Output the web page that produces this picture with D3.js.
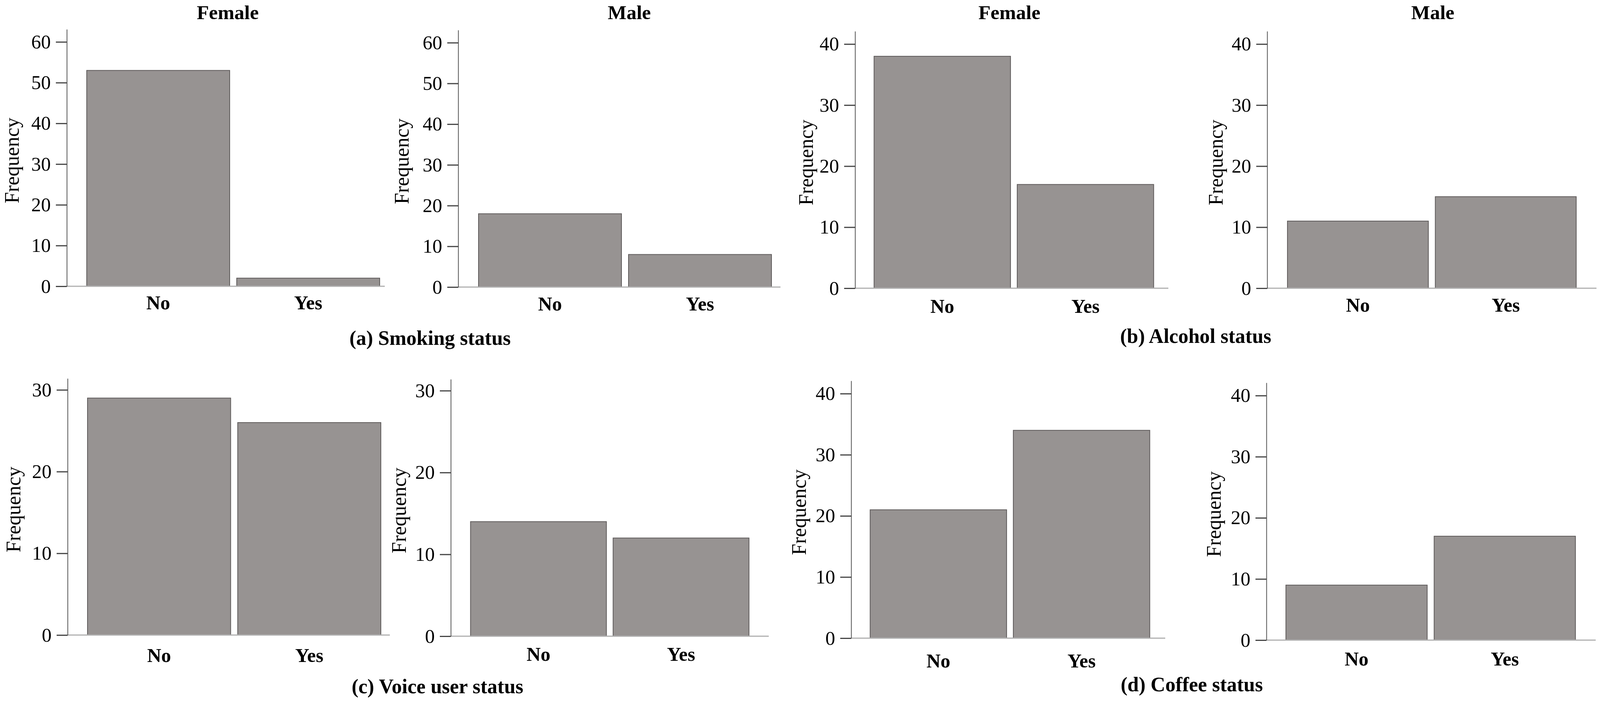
<!DOCTYPE html>
<html>
<head>
<meta charset="utf-8">
<script src="https://cdn.jsdelivr.net/npm/d3@7"></script>
<style>
  body { margin: 0; background: #fff; }
  svg text { font-family: "Liberation Serif", "DejaVu Serif", "Times New Roman", serif; fill: #000; }
</style>
</head>
<body>
<div id="chart"></div>
<script>
var categories = ["No", "Yes"];
var sexes = ["Female", "Male"];
var captions = ["(a) Smoking status", "(b) Alcohol status", "(c) Voice user status", "(d) Coffee status"];

var smokingFemale = [53, 2];
var smokingMale = [18, 8];
var alcoholFemale = [38, 17];
var alcoholMale = [11, 15];
var voiceFemale = [29, 26];
var voiceMale = [14, 12];
var coffeeFemale = [21, 34];
var coffeeMale = [9, 17];

var smokingTicks = [0, 10, 20, 30, 40, 50, 60];
var alcoholTicks = [0, 10, 20, 30, 40];
var voiceTicks = [0, 10, 20, 30];
var coffeeTicks = [0, 10, 20, 30, 40];

var W = 4113, H = 1800;
var serif = "'Liberation Serif', 'DejaVu Serif', serif";
var svg = d3.select("#chart").append("svg")
    .attr("width", W).attr("height", H);

// one entry per small chart: where it sits on the page
var panels = [
  {values: smokingFemale, ticks: smokingTicks, yMax: 63.1, axisX: 171, barL: 213, barR: 981, lineEnd: 985, top: 75, base: 733, labelDy: 59, title: 0, fx: 48},
  {values: smokingMale, ticks: smokingTicks, yMax: 63.1, axisX: 1173, barL: 1216, barR: 1984, lineEnd: 1998, top: 77, base: 735, labelDy: 60, title: 1, fx: 1046},
  {values: alcoholFemale, ticks: alcoholTicks, yMax: 42.1, axisX: 2189, barL: 2229, barR: 2962, lineEnd: 2991, top: 80, base: 738, labelDy: 63, title: 0, fx: 2081},
  {values: alcoholMale, ticks: alcoholTicks, yMax: 42.1, axisX: 3244, barL: 3287, barR: 4044, lineEnd: 4087, top: 80, base: 738, labelDy: 60, title: 1, fx: 3130},
  {values: voiceFemale, ticks: voiceTicks, yMax: 31.4, axisX: 173, barL: 215, barR: 984, lineEnd: 998, top: 969, base: 1626, labelDy: 69, title: -1, fx: 52},
  {values: voiceMale, ticks: voiceTicks, yMax: 31.4, axisX: 1154, barL: 1196, barR: 1926, lineEnd: 1968, top: 971, base: 1629, labelDy: 63, title: -1, fx: 1039},
  {values: coffeeFemale, ticks: coffeeTicks, yMax: 42.1, axisX: 2179, barL: 2219, barR: 2952, lineEnd: 2983, top: 975, base: 1634, labelDy: 75, title: -1, fx: 2063},
  {values: coffeeMale, ticks: coffeeTicks, yMax: 42.1, axisX: 3242, barL: 3283, barR: 4042, lineEnd: 4085, top: 980, base: 1639, labelDy: 65, title: -1, fx: 3125}
];

var titleX = [583, 1611, 2584, 3668];

panels.forEach(function(p, i) {
  var g = svg.append("g");

  var x = d3.scaleBand().domain(categories)
      .range([p.barL, p.barR])
      .paddingInner(0.047).paddingOuter(0.0235);
  var y = d3.scaleLinear().domain([0, p.yMax]).range([p.base, p.top]);

  // bars
  g.selectAll("rect")
    .data(p.values)
    .enter().append("rect")
    .attr("x", function(d, j){ return x(categories[j]); })
    .attr("y", function(d){ return y(d); })
    .attr("width", x.bandwidth())
    .attr("height", function(d){ return y(0) - y(d); })
    .attr("fill", "#979392")
    .attr("stroke", "#5f5b5b")
    .attr("stroke-width", 2);

  // baseline
  g.append("line")
    .attr("x1", p.axisX).attr("x2", p.lineEnd)
    .attr("y1", y(0)).attr("y2", y(0))
    .attr("stroke", "#b0b0b0").attr("stroke-width", 3);

  // y axis
  var yAxis = g.append("g")
    .attr("transform", "translate(" + p.axisX + ",0)")
    .call(d3.axisLeft(y).tickValues(p.ticks).tickSize(28).tickSizeOuter(0).tickPadding(13));
  yAxis.attr("font-family", serif).attr("font-size", 50);
  yAxis.select(".domain").attr("stroke", "#555").attr("stroke-width", 2);
  yAxis.selectAll(".tick line").attr("stroke", "#444").attr("stroke-width", 3);
  yAxis.selectAll(".tick text")
    .attr("fill", "#000")
    .style("font-family", serif)
    .style("font-size", "50px");

  // x labels
  g.selectAll(".xlab")
    .data(categories)
    .enter().append("text")
    .attr("class", "xlab")
    .attr("x", function(d){ return x(d) + x.bandwidth() / 2; })
    .attr("y", y(0) + p.labelDy)
    .attr("text-anchor", "middle")
    .attr("font-size", "50px")
    .attr("font-weight", "bold")
    .text(function(d){ return d; });

  // y title
  g.append("text")
    .attr("transform", "translate(" + p.fx + "," + ((p.top + p.base) / 2 + 7) + ") rotate(-90)")
    .attr("text-anchor", "middle")
    .attr("font-size", "52px")
    .text("Frequency");

  if (p.title >= 0) {
    g.append("text")
      .attr("x", titleX[i]).attr("y", 49)
      .attr("text-anchor", "middle")
      .attr("font-size", "51px")
      .attr("font-weight", "bold")
      .text(sexes[p.title]);
  }
});

// captions under each pair
var capX = [1101, 3061, 1120, 3051];
var capY = [883, 878, 1775, 1770];
svg.selectAll(".caption")
  .data(captions)
  .enter().append("text")
  .attr("class", "caption")
  .attr("x", function(d, i){ return capX[i]; })
  .attr("y", function(d, i){ return capY[i]; })
  .attr("text-anchor", "middle")
  .attr("font-size", "52px")
  .attr("font-weight", "bold")
  .text(function(d){ return d; });
</script>
</body>
</html>
